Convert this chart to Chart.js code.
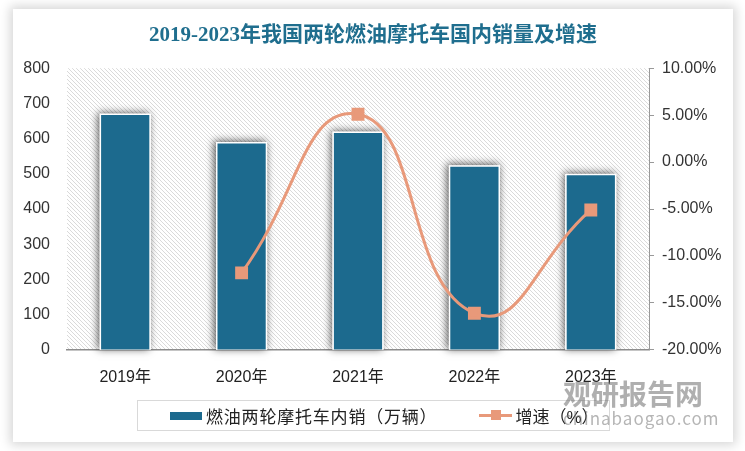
<!DOCTYPE html>
<html>
<head>
<meta charset="utf-8">
<script src="https://cdn.jsdelivr.net/npm/chart.js@4/dist/chart.umd.min.js"></script>
<style>
  body { margin: 0; background: #fff; width: 745px; height: 451px; overflow: hidden; }
  #card {
    position: absolute; left: 13px; top: 9px; width: 720px; height: 433px;
    background: #fff; box-shadow: 0 0 10px 3px rgba(0, 0, 0, 0.16);
  }
  #card canvas { position: absolute; left: 0; top: 0; }
  #legend {
    position: absolute; left: 124px; top: 391px; width: 471px; height: 29px;
    border: 1px solid #d9d9d9; display: flex; align-items: center;
    font: 17px "Liberation Sans", "Noto Sans CJK SC", sans-serif; color: #222;
  }
  .swatch { display: inline-block; width: 32px; height: 8px; background: #1c6a8e; margin-left: 32px; margin-right: 4px; }
  .lineKey { position: relative; display: inline-block; width: 33px; height: 3px; background: #e8997a; margin-left: 42px; margin-right: 3px; }
  .lineKey i { position: absolute; left: 12px; top: -4px; width: 10px; height: 10px; background: #e8997a; }
  #lab0 { letter-spacing: 0.8px; }
  #mark { position: absolute; left: 550px; top: 364px; pointer-events: none; font-family: "Noto Sans CJK SC", sans-serif; }
  #mark .cn { font-size: 28px; font-weight: bold; color: rgba(110, 110, 110, 0.55); }
  #mark .en { font-size: 17px; color: rgba(120, 120, 120, 0.55); letter-spacing: 1px; margin-top: -8px; }
</style>
</head>
<body>
<div id="card">
  <canvas id="myChart" width="720" height="433"></canvas>
  <div id="legend">
    <span class="swatch"></span><span id="lab0"></span>
    <span class="lineKey"><i></i></span><span id="lab1"></span>
  </div>
  <div id="mark"><div class="cn">观研报告网</div><div class="en">chinabaogao.com</div></div>
</div>
<script>
// 数据
const years = ["2019年", "2020年", "2021年", "2022年", "2023年"];
const sales = [671, 590, 620, 524, 500];          // 万辆
const growth = [null, -11.8, 5.1, -16.1, -5.1];   // %
const salesLabel = "燃油两轮摩托车内销（万辆）";
const growthLabel = "增速（%）";
const titleText = "2019-2023年我国两轮燃油摩托车国内销量及增速";

const barColor = "#1c6a8e";
const lineColor = "#e8997a";
const fontFamily = '"Liberation Sans", "Noto Sans CJK SC", sans-serif';

document.getElementById("lab0").textContent = salesLabel;
document.getElementById("lab1").textContent = growthLabel;

// 斜线底纹
const pat = document.createElement("canvas");
pat.width = 4;
pat.height = 4;
const pctx = pat.getContext("2d");
pctx.fillStyle = "#dadada";
for (let i = 0; i < 4; i++) pctx.fillRect(i, i, 1, 1);

const hatchPlugin = {
    id: "hatch",
    beforeDraw(chart) {
        const { ctx, chartArea: a } = chart;
        ctx.save();
        ctx.fillStyle = ctx.createPattern(pat, "repeat");
        ctx.fillRect(a.left, a.top, a.right - a.left, a.bottom - a.top);
        ctx.restore();
    },
    // 柱子阴影
    beforeDatasetDraw(chart, args) {
        if (args.meta.type !== "bar") return;
        const ctx = chart.ctx;
        ctx.save();
        ctx.shadowColor = "rgba(0,0,0,0.65)";
        ctx.shadowBlur = 8;
        ctx.shadowOffsetX = -1.5;
        ctx.shadowOffsetY = -1;
        ctx.fillStyle = "#fff";
        args.meta.data.forEach(bar => {
            const p = bar.getProps(["x", "y", "base", "width"], true);
            ctx.fillRect(p.x - p.width / 2, p.y, p.width, p.base - p.y);
        });
        ctx.restore();
    }
};

const ctx = document.getElementById("myChart").getContext("2d");
const myChart = new Chart(ctx, {
    data: {
        labels: years,
        datasets: [
            {
                type: "line",
                label: growthLabel,
                data: growth,
                yAxisID: "y1",
                borderColor: lineColor,
                backgroundColor: lineColor,
                borderWidth: 3,
                tension: 0.5,
                pointStyle: "rect",
                pointRadius: 7,
                pointHoverRadius: 7,
                order: 0,
            },
            {
                type: "bar",
                label: salesLabel,
                data: sales,
                yAxisID: "y",
                backgroundColor: barColor,
                borderColor: "#ffffff",
                borderWidth: 1.5,
                barPercentage: 0.44,
                categoryPercentage: 1,
                order: 1,
            },
        ],
    },
    options: {
        responsive: false,
        animation: false,
        layout: { padding: { left: 0, right: 0, top: 0, bottom: 37 } },
        plugins: {
            legend: { display: false },
            tooltip: { enabled: false },
            title: {
                display: true,
                text: titleText,
                color: "#1f6e8e",
                font: { family: '"Liberation Serif", "Noto Sans CJK SC", serif', size: 21, weight: "bold" },
                padding: { top: 14, bottom: 20 },
            },
        },
        scales: {
            x: {
                grid: { display: false, drawTicks: false },
                border: { display: true, color: "#8c8c8c", width: 1.5 },
                ticks: { color: "#222", padding: 18, font: { family: fontFamily, size: 16 } },
            },
            y: {
                position: "left",
                min: 0,
                max: 800,
                ticks: { stepSize: 100, color: "#333", padding: 17, font: { family: fontFamily, size: 16 } },
                grid: { display: false, drawTicks: false },
                border: { display: false },
                afterFit: s => { s.width = 54; },
            },
            y1: {
                position: "right",
                min: -20,
                max: 10,
                ticks: {
                    stepSize: 5,
                    color: "#333",
                    padding: 8,
                    font: { family: fontFamily, size: 16 },
                    callback: v => v.toFixed(2) + "%",
                },
                grid: { drawOnChartArea: false, drawTicks: true, tickLength: 5, color: "#999" },
                border: { display: true, color: "#999" },
                afterFit: s => { s.width = 84; },
            },
        },
    },
    plugins: [hatchPlugin],
});
</script>
</body>
</html>
